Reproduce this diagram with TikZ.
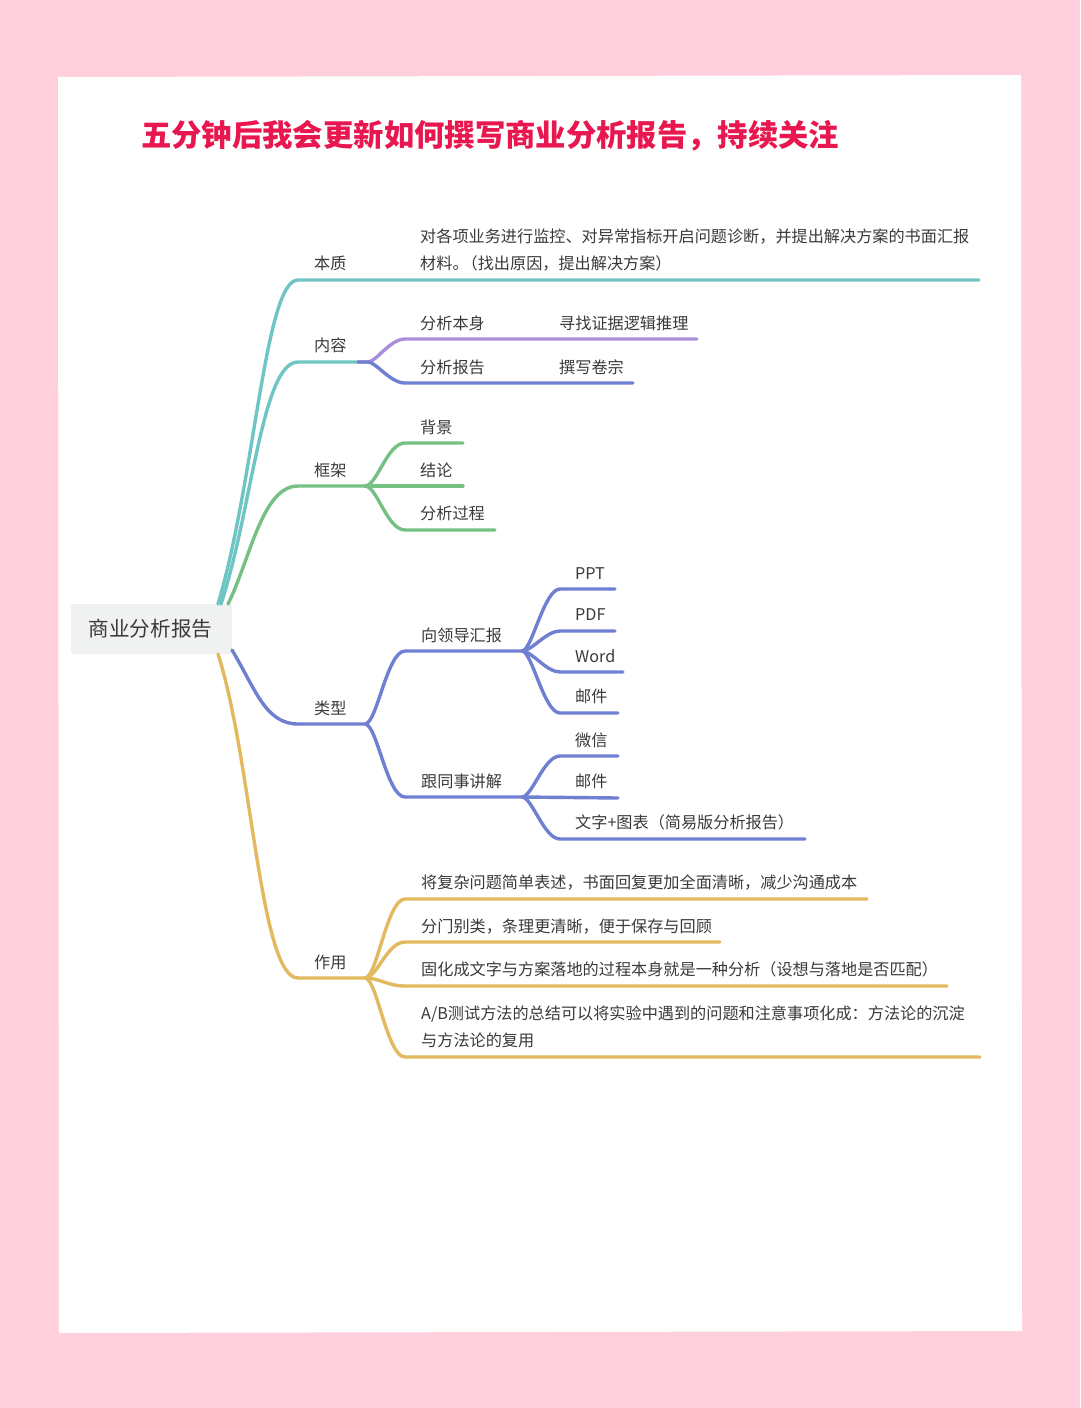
\documentclass[tikz,border=0pt]{standalone}
\usepackage{fontspec}
\setmainfont{Noto Sans CJK SC}
\definecolor{pagepink}{HTML}{FFD0DC}
\definecolor{titlered}{HTML}{E8174F}
\definecolor{rootgray}{HTML}{F0F2F1}
\definecolor{textgray}{HTML}{3A3A3A}
\definecolor{tealline}{HTML}{6FC4C4}
\definecolor{purpleline}{HTML}{A98FDB}
\definecolor{blueline}{HTML}{6F7FD1}
\definecolor{greenline}{HTML}{77C084}
\definecolor{goldline}{HTML}{E3B95F}
\tikzset{
  lab/.style={anchor=west,inner sep=0,text=textgray,align=left,yshift=-0.4,
    font=\fontsize{16.15}{27.5}\selectfont},
  branch/.style={line width=3.4,line cap=round}
}

\begin{document}
\begin{tikzpicture}[x=1pt,y=-1pt]
  \useasboundingbox (0,0) rectangle (1080,1408);
  % Page and card
  \fill[pagepink] (0,0) rectangle (1080,1408);
  \fill[white] (58,77) -- (1021,75) -- (1022,1331) -- (59,1333) -- cycle;
  \node[anchor=west,inner sep=0,text=titlered,font=\fontsize{30.35}{32}\selectfont\bfseries] (title) at (141,136) {五分钟后我会更新如何撰写商业分析报告，持续关注};

  % Root
  \node[fill=rootgray,rounded corners=2,minimum width=161,minimum height=50,inner sep=0,text=textgray,font=\fontsize{20.6}{24}\selectfont] (root) at (151.5,629) {\kern-2pt 商业分析报告};
  \coordinate (rootA) at (218,604);
  \coordinate (rootB) at (221,604);
  \coordinate (rootC) at (228,604);
  \coordinate (rootD) at (232,650);
  \coordinate (rootE) at (218,654);

  % Labels, first level
  \node[lab] (benzhi) at (314,263) {本质};
  \node[lab] (neirong) at (314,345) {内容};
  \node[lab] (kuangjia) at (314,470) {框架};
  \node[lab] (leixing) at (314,708) {类型};
  \node[lab] (zuoyong) at (314,962) {作用};

  % Labels, second level
  \node[lab] (benzhiText) at (420,249.5) {对各项业务进行监控、对异常指标开启问题诊断，并提出解决方案的书面汇报\\材料。\kern-7pt（找出原因，提出解决方案）};
  \node[lab] (fenxi) at (420,323) {分析本身};
  \node[lab] (baogao) at (420,367) {分析报告};
  \node[lab] (xunzhao) at (559,323) {寻找证据逻辑推理};
  \node[lab] (zhuanxie) at (559,367) {撰写卷宗};
  \node[lab] (beijing) at (420,427) {背景};
  \node[lab] (jielun) at (420,470) {结论};
  \node[lab] (guocheng) at (420,513) {分析过程};
  \node[lab] (lingdao) at (421,635) {向领导汇报};
  \node[lab] (tongshi) at (421,781) {跟同事讲解};
  \node[lab] (ppt) at (575,573) {PPT};
  \node[lab] (pdf) at (575,614) {PDF};
  \node[lab] (word) at (575,656) {Word};
  \node[lab] (youjianA) at (575,696) {邮件};
  \node[lab] (weixin) at (575,740) {微信};
  \node[lab] (youjianB) at (575,781) {邮件};
  \node[lab] (tubiao) at (575,822) {文字+图表（简易版分析报告）};
  \node[lab] (fuza) at (421,882) {将复杂问题简单表述，书面回复更加全面清晰，减少沟通成本};
  \node[lab] (fenmen) at (421,926) {分门别类，条理更清晰，便于保存与回顾};
  \node[lab] (guhua) at (421,969) {固化成文字与方案落地的过程本身就是一种分析（设想与落地是否匹配）};
  \node[lab] (abtest) at (421,1026.5) {A/B测试方法的总结可以将实验中遇到的问题和注意事项化成：方法论的沉淀\\与方法论的复用};

  % Line ends
  \coordinate (benzhiEnd) at (979,280);
  \coordinate (neirongEnd) at (358,362);
  \coordinate (kuangjiaEnd) at (365,486);
  \coordinate (leixingEnd) at (365,724);
  \coordinate (zuoyongEnd) at (365,978);
  \coordinate (lingdaoEnd) at (522,651);
  \coordinate (tongshiEnd) at (522,797);

  % Teal
  \draw[branch,tealline] (rootA) .. controls (255,480) and (265,280) .. (298,280) -- (benzhiEnd);
  \draw[branch,tealline] (rootB) .. controls (252,510) and (262,362) .. (298,362) -- (neirongEnd);
  % Content
  \draw[branch,purpleline] (neirongEnd) -- ++(10,0) .. controls +(8,0) and +(-15,0) .. (405,339) -- (697,339);
  \draw[branch,blueline] (neirongEnd) -- ++(10,0) .. controls +(8,0) and +(-15,0) .. (405,383) -- (633,383);
  % Frame
  \draw[branch,greenline] (rootC) .. controls (250,560) and (262,486) .. (298,486) -- (kuangjiaEnd);
  \draw[branch,greenline] (kuangjiaEnd) .. controls +(12,0) and +(-18,0) .. (405,443) -- (463,443);
  \draw[branch,greenline] (kuangjiaEnd) -- (463,486);
  \draw[branch,greenline] (kuangjiaEnd) .. controls +(12,0) and +(-18,0) .. (405,530) -- (495,530);
  % Types
  \draw[branch,blueline] (rootD) .. controls (255,688) and (265,724) .. (298,724) -- (leixingEnd);
  \draw[branch,blueline] (leixingEnd) .. controls +(12,0) and +(-18,0) .. (405,651) -- (lingdaoEnd);
  \draw[branch,blueline] (leixingEnd) .. controls +(12,0) and +(-18,0) .. (405,797) -- (tongshiEnd);
  \draw[branch,blueline] (lingdaoEnd) .. controls +(10,0) and +(-16,0) .. (560,589) -- (615,589);
  \draw[branch,blueline] (lingdaoEnd) .. controls +(10,0) and +(-14,0) .. (560,631) -- (615,631);
  \draw[branch,blueline] (lingdaoEnd) .. controls +(10,0) and +(-14,0) .. (560,672) -- (623,672);
  \draw[branch,blueline] (lingdaoEnd) .. controls +(10,0) and +(-16,0) .. (560,713) -- (618,713);
  \draw[branch,blueline] (tongshiEnd) .. controls +(10,0) and +(-16,0) .. (560,756) -- (618,756);
  \draw[branch,blueline] (tongshiEnd) -- (618,798);
  \draw[branch,blueline] (tongshiEnd) .. controls +(10,0) and +(-16,0) .. (560,839) -- (805,839);
  % Use
  \draw[branch,goldline] (rootE) .. controls (252,760) and (260,978) .. (298,978) -- (zuoyongEnd);
  \draw[branch,goldline] (zuoyongEnd) .. controls +(12,0) and +(-18,0) .. (405,899) -- (867,899);
  \draw[branch,goldline] (zuoyongEnd) .. controls +(12,0) and +(-18,0) .. (405,942) -- (720,942);
  \draw[branch,goldline] (zuoyongEnd) .. controls +(15,0) and +(-18,0) .. (405,986) -- (947,986);
  \draw[branch,goldline] (zuoyongEnd) .. controls +(12,0) and +(-18,0) .. (405,1057) -- (980,1057);
\end{tikzpicture}
\end{document}
